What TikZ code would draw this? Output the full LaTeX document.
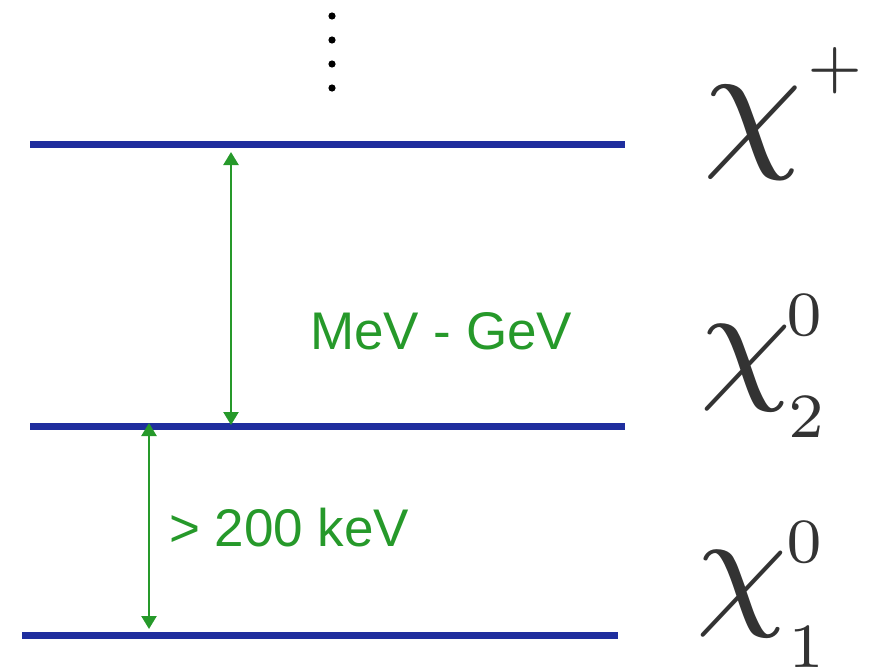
\RequirePackage{fix-cm}
\documentclass[tikz,border=0pt]{standalone}
\usepackage{fontspec}
\newfontfamily\lblfamily{Liberation Sans}
\usetikzlibrary{arrows.meta}
\definecolor{colLevel}{HTML}{1F2E9E}
\definecolor{colGap}{HTML}{26992A}
\definecolor{colState}{HTML}{333333}
\def\gapfont{\fontsize{53pt}{60pt}\selectfont\lblfamily}
\font\chiBigFont=cmmi8 at 150pt
\font\chiFont=cmmi8 at 138pt
\font\idxFont=cmr7 at 63pt
\tikzset{
  levelline/.style={draw=colLevel, line width=7pt},
  gaparrow/.style={draw=colGap, line width=2.5pt,
    {Triangle[length=13pt,width=15pt]}-{Triangle[length=13pt,width=15pt]}},
  gaplabel/.style={anchor=base west, font=\gapfont, text=colGap, inner sep=0pt},
  statelabel/.style={anchor=base west, text=colState, inner sep=0pt}
}
\newcommand{\level}[4]{%
  \coordinate (#1W) at (#2,#4);%
  \coordinate (#1E) at (#3,#4);%
  \draw[levelline] (#1W) -- (#1E);}

\begin{document}
\begin{tikzpicture}[x=1pt, y=-1pt]
\useasboundingbox (0,0) rectangle (881,672);

% ===================== LEVELS =====================
\level{chiP}{30}{625}{144.5}
\level{chiTwo}{30}{625}{426}
\level{chiOne}{22}{618}{635.5}

% more states above
\foreach \yy in {16,40,64,88}
  \fill[black] (332,\yy) circle (3.6pt);

% ===================== GAPS =====================
\coordinate (gapTopA) at (231,152);
\coordinate (gapBotA) at (231,425);
\coordinate (gapTopB) at (149,423);
\coordinate (gapBotB) at (149,629);
\draw[gaparrow] (gapTopA) -- (gapBotA);
\draw[gaparrow] (gapTopB) -- (gapBotB);

\node[gaplabel] (gapHigh) at (310,349) {MeV - GeV};
\node[gaplabel] (gapLow) at (169,546) {> 200 keV};

% ===================== STATES =====================
\node[statelabel] (stateP) at (703,150) {\chiBigFont\char"1F};
\node[statelabel] (statePsup) at (807,86) {\idxFont +};

\node[statelabel] (stateTwo) at (700,384) {\chiFont\char"1F};
\node[statelabel] (stateTwoSup) at (786,335) {\idxFont 0};
\node[statelabel] (stateTwoSub) at (788,437) {\idxFont 2};

\node[statelabel] (stateOne) at (696,610) {\chiFont\char"1F};
\node[statelabel] (stateOneSup) at (786,562) {\idxFont 0};
\node[statelabel] (stateOneSub) at (788,667) {\idxFont 1};
\end{tikzpicture}
\end{document}
